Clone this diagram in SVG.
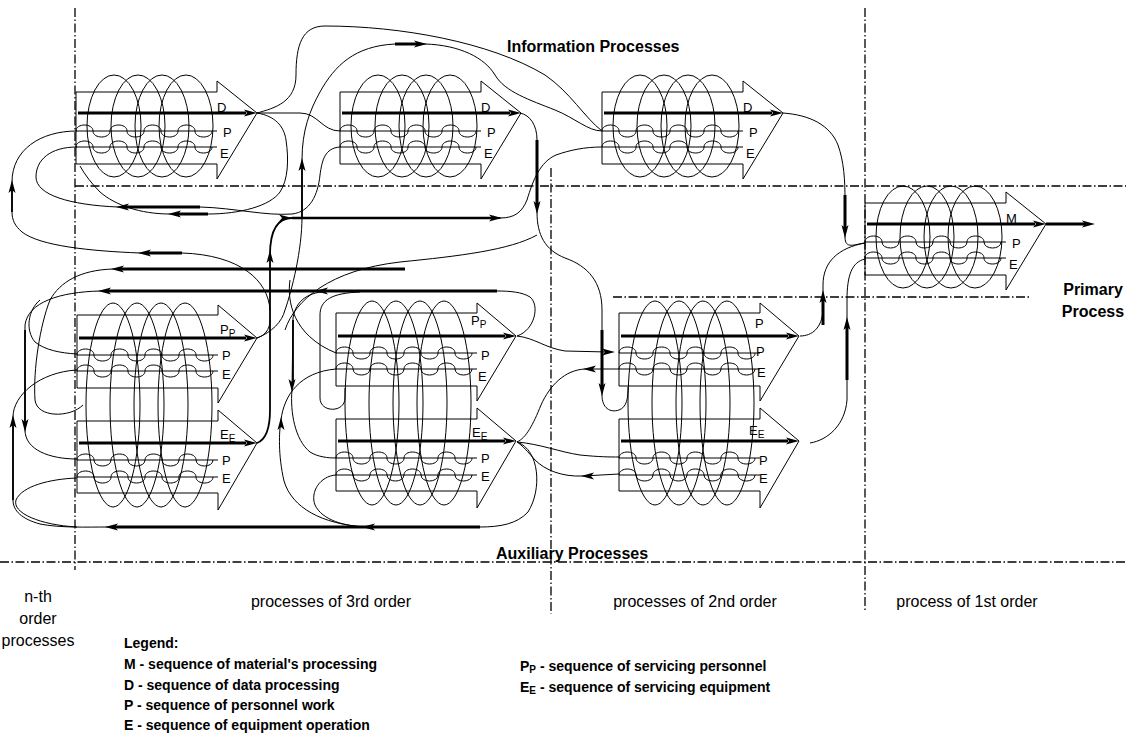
<svg xmlns="http://www.w3.org/2000/svg" xmlns:xlink="http://www.w3.org/1999/xlink" width="1126" height="734" viewBox="0 0 1126 734">
<style>
.t{fill:none;stroke:#000;stroke-width:1}
.c{fill:none;stroke:#000;stroke-width:1}
.m{fill:none;stroke:#000;stroke-width:1.8}
.b{fill:none;stroke:#000;stroke-width:3}
.dd{fill:none;stroke:#000;stroke-width:1.3;stroke-dasharray:9 2.5 1.5 2.5}
.ah{fill:#000;stroke:none}
.lb{font-family:"Liberation Sans",Arial,sans-serif;font-size:13px;fill:#000}
.sub{font-size:10px}
.ti{font-family:"Liberation Sans",Arial,sans-serif;font-size:16px;font-weight:bold;fill:#000}
.tx{font-family:"Liberation Sans",Arial,sans-serif;font-size:16px;fill:#000}
.lg{font-family:"Liberation Sans",Arial,sans-serif;font-size:14px;font-weight:bold;fill:#000}
</style>
<defs>
<path id="ah" class="ah" d="M0,0 L-13,-3.5 L-10,0 L-13,3.5 Z"/>
<path id="wave" class="t" d="M0,0 c0,-8 17,-8 17,0 s17,8 17,0 s17,-8 17,0 s17,8 17,0 s17,-8 17,0 s17,8 17,0 s17,-8 17,0 s17,8 17,0"/>
<g id="coilS" class="t">
<ellipse cx="38" cy="34" rx="27" ry="51"/><ellipse cx="62" cy="34" rx="27" ry="51"/><ellipse cx="86" cy="34" rx="27" ry="51"/><ellipse cx="110" cy="34" rx="27" ry="51"/>
</g>
<g id="coilL" class="t">
<ellipse cx="36" cy="90" rx="27" ry="102"/><ellipse cx="60" cy="90" rx="27" ry="102"/><ellipse cx="84" cy="90" rx="27" ry="102"/><ellipse cx="108" cy="90" rx="27" ry="102"/>
</g>
<g id="infoShape" class="t">
<use href="#coilS"/>
<path d="M0,0 H141 V-11 L181,21 L141,87 V72 H0 Z"/>
<path d="M0,39 H141 M0,55 H141"/>
<use href="#wave" y="39"/><use href="#wave" y="55"/>
<path class="b" d="M2,21 H170"/>
<use href="#ah" x="181" y="21"/>
</g>
<g id="auxShape" class="t">
<use href="#coilL"/>
<path d="M0,0 H141 V-10 L180,23 L141,88 V73 H0 Z"/>
<path d="M0,106 H141 V95 L180,128 L141,195 V178 H0 Z"/>
<path d="M0,40 H141 M0,56 H141 M0,145 H141 M0,162 H141"/>
<use href="#wave" y="40"/><use href="#wave" y="56"/><use href="#wave" y="145"/><use href="#wave" y="162"/>
<path class="b" d="M2,23 H169 M2,128 H169"/>
<use href="#ah" x="180" y="23"/><use href="#ah" x="180" y="128"/>
</g>
</defs>
<rect width="1126" height="734" fill="#fff"/>

<g id="grid">
<path class="dd" d="M75,8 V570"/>
<path class="dd" d="M551,168 V614"/>
<path class="dd" d="M865,8 V610"/>
<path class="dd" d="M75,186 H1126"/>
<path class="dd" d="M613,297 H1030"/>
<path class="dd" d="M0,562 H1126"/>
</g>

<g id="info-3a" transform="translate(76,92)">
<use href="#infoShape"/>
<text class="lb" x="141" y="20">D</text><text class="lb" x="147" y="45">P</text><text class="lb" x="144" y="66">E</text>
</g>
<g id="info-3b" transform="translate(340,92)">
<use href="#infoShape"/>
<text class="lb" x="141" y="20">D</text><text class="lb" x="147" y="45">P</text><text class="lb" x="144" y="66">E</text>
</g>
<g id="info-2" transform="translate(602,92)">
<use href="#infoShape"/>
<text class="lb" x="141" y="20">D</text><text class="lb" x="147" y="45">P</text><text class="lb" x="144" y="66">E</text>
</g>
<g id="primary" transform="translate(865,203)">
<use href="#infoShape"/>
<text class="lb" x="141" y="20">M</text><text class="lb" x="147" y="45">P</text><text class="lb" x="144" y="66">E</text>
</g>
<g id="aux-3a" transform="translate(77,315)">
<use href="#auxShape"/>
<text class="lb" x="143" y="19">P<tspan class="sub" dy="3">P</tspan></text>
<text class="lb" x="145" y="45">P</text><text class="lb" x="145" y="64">E</text>
<text class="lb" x="143" y="124">E<tspan class="sub" dy="3">E</tspan></text>
<text class="lb" x="145" y="150">P</text><text class="lb" x="145" y="168">E</text>
</g>
<g id="aux-3b" transform="translate(336,313)">
<use href="#auxShape"/>
<text class="lb" x="135" y="12">P<tspan class="sub" dy="3">P</tspan></text>
<text class="lb" x="145" y="47">P</text><text class="lb" x="142" y="68">E</text>
<text class="lb" x="136" y="124">E<tspan class="sub" dy="3">E</tspan></text>
<text class="lb" x="145" y="150">P</text><text class="lb" x="145" y="168">E</text>
</g>
<g id="aux-2" transform="translate(619,313)">
<use href="#auxShape"/>
<text class="lb" x="136" y="15">P</text>
<text class="lb" x="137" y="43">P</text><text class="lb" x="138" y="64">E</text>
<text class="lb" x="130" y="122">E<tspan class="sub" dy="3">E</tspan></text>
<text class="lb" x="140" y="152">P</text><text class="lb" x="140" y="170">E</text>
</g>

<g id="connectors">
<path class="c" d="M257,113 C275,108 296,102 296,75 C296,45 302,26 325,26 C400,26 490,42 545,75 C570,92 585,118 602,131"/>
<path class="c" d="M257,338 C272,332 282,322 285,310 C292,290 302,250 302,217 L302,160 C302,130 310,110 320,92 C335,65 355,46 395,44 L425,44 C460,45 485,58 495,75 C505,92 530,100 555,110 C575,118 588,131 602,131"/>
<path class="m" d="M302,217 V165"/><use href="#ah" transform="translate(302,158) rotate(-90)"/>
<path class="b" d="M395,44 H420"/><use href="#ah" transform="translate(427,44)"/>
<path class="c" d="M257,113 L300,113 C318,113 322,131 340,131"/>
<path class="c" d="M257,113 C275,116 284,126 286,140 C289,160 288,180 280,192 C270,206 240,214 208,214 L170,214 C140,214 115,205 100,192 C92,184 85,175 80,166"/>
<path class="b" d="M208,214 H175"/><use href="#ah" transform="translate(168,214) rotate(180)"/>
<path class="c" d="M340,147 C325,148 322,160 320,175 C318,195 310,212 292,214 C265,216 235,208 200,207 L118,207 C70,205 36,195 36,177 C36,160 50,147 77,147"/>
<path class="b" d="M200,207 H123"/><use href="#ah" transform="translate(116,207) rotate(180)"/>
<path class="c" d="M270,310 C268,280 240,255 182,253 L140,253 C90,251 40,246 22,232 C15,226 12,220 12,212 L12,182 C12,150 40,131 77,131"/>
<path class="b" d="M182,253 H145"/><use href="#ah" transform="translate(138,253) rotate(180)"/>
<path class="m" d="M12,212 V187"/><use href="#ah" transform="translate(12,180) rotate(-90)"/>
<path class="m" d="M257,443 C265,440 270,430 270,410 L270,255 C270,232 276,218 292,218 L500,218"/>
<use href="#ah" transform="translate(270,250) rotate(-90)"/>
<path class="m" d="M292,218 H495" style="stroke-width:2.4"/><use href="#ah" transform="translate(292,218)"/><use href="#ah" transform="translate(502,218)"/>
<path class="c" d="M257,338 C264,336 270,330 270,320"/>
<path class="c" d="M500,218 C515,218 522,212 527,200 C533,180 540,162 556,155 C570,150 585,147 602,147"/>
<path class="c" d="M520,113 C530,115 537,125 537,140 L537,212 C537,235 545,250 565,258 C588,266 602,282 602,310 L602,395 C602,408 610,413 619,410 C627,407 628,398 628,387"/>
<path class="b" d="M537,140 V207"/><use href="#ah" transform="translate(537,214) rotate(90)"/>
<path class="b" d="M602,330 V388"/><use href="#ah" transform="translate(602,396) rotate(90)"/>
<path class="c" d="M783,113 C810,115 830,125 838,145 C844,162 845,180 845,200 L845,237 C845,250 855,244 865,243"/>
<path class="b" d="M845,195 V230"/><use href="#ah" transform="translate(845,238) rotate(90)"/>
<path class="c" d="M800,336 C812,336 822,328 823,310 L823,285 C823,262 838,248 865,243"/>
<path class="b" d="M823,325 V297"/><use href="#ah" transform="translate(823,290) rotate(-90)"/>
<path class="c" d="M810,443 C828,440 845,425 847,400 L847,300 C847,275 852,262 865,259"/>
<path class="b" d="M847,380 V324"/><use href="#ah" transform="translate(847,317) rotate(-90)"/>
<path class="b" d="M1046,224 H1088"/><use href="#ah" transform="translate(1095,224)"/>
<path class="c" d="M405,269 L113,269 C80,270 60,282 50,300 C40,325 33,370 35,400 C37,418 70,418 83,405"/>
<path class="b" d="M405,269 H118"/><use href="#ah" transform="translate(111,269) rotate(180)"/>
<path class="c" d="M517,336 C535,330 540,305 530,297 C522,292 510,291 497,291 L100,291 C60,292 28,302 25,325 L25,430 C25,450 50,459 77,459"/>
<path class="b" d="M497,291 H105"/><use href="#ah" transform="translate(98,291) rotate(180)"/><use href="#ah" transform="translate(315,291) rotate(180)"/>
<path class="m" d="M25,330 V425"/><use href="#ah" transform="translate(25,432) rotate(90)"/>
<path class="c" d="M40,300 C28,310 25,330 35,342 C45,350 60,353 77,354"/>
<path class="c" d="M330,291 C308,292 296,300 293,318 L292,390 C290,412 295,440 310,452 C318,457 328,458 336,458"/>
<path class="m" d="M293,320 V385"/><use href="#ah" transform="translate(292,392) rotate(90)"/>
<path class="c" d="M360,292 C332,293 320,300 320,315 L320,398 C320,413 345,413 345,398 L345,388"/>
<path class="c" d="M290,280 C287,300 292,335 336,353"/>
<path class="c" d="M365,527 C322,524 292,508 284,481 C278,455 279,432 281,420 C284,395 300,372 336,369"/>
<use href="#ah" transform="translate(281,417) rotate(-90)"/>
<path class="c" d="M336,475 C320,476 310,492 315,505 C322,520 345,527 370,527"/>
<path class="c" d="M517,442 C540,450 542,490 528,512 C517,524 500,527 480,527 L107,527 C88,527 60,528 40,524 C22,519 13,511 13,500 L13,417 C13,395 40,372 77,370"/>
<path class="b" d="M480,527 H112"/><use href="#ah" transform="translate(105,527) rotate(180)"/><use href="#ah" transform="translate(362,527) rotate(180)"/>
<path class="m" d="M13,500 V422"/><use href="#ah" transform="translate(13,415) rotate(-90)"/>
<path class="c" d="M77,478 C50,479 22,486 16,500 C12,513 40,525 77,527"/>
<path class="c" d="M517,336 C535,338 545,348 565,351 L608,352"/><use href="#ah" transform="translate(615,352)"/>
<path class="c" d="M619,369 L585,369 C565,370 550,385 541,405 C533,425 526,438 517,442"/><use href="#ah" transform="translate(583,369) rotate(180)"/>
<path class="c" d="M517,442 C540,444 560,452 580,455 C600,457 610,457 619,457"/>
<path class="c" d="M619,474 L583,476 C562,477 545,470 535,460 C528,452 522,445 517,442"/><use href="#ah" transform="translate(581,476) rotate(180)"/>
<path class="c" d="M285,330 C295,300 330,270 400,262 C460,256 510,250 537,235"/>
</g>

<g id="labels">
<text class="ti" x="507" y="52">Information Processes</text>
<text class="ti" x="1093" y="295" text-anchor="middle">Primary</text>
<text class="ti" x="1093" y="317" text-anchor="middle">Process</text>
<text class="ti" x="496" y="559">Auxiliary Processes</text>
<text class="tx" x="38" y="602" text-anchor="middle">n-th</text>
<text class="tx" x="38" y="624" text-anchor="middle">order</text>
<text class="tx" x="38" y="646" text-anchor="middle">processes</text>
<text class="tx" x="331" y="607" text-anchor="middle">processes of 3rd order</text>
<text class="tx" x="695" y="607" text-anchor="middle">processes of 2nd order</text>
<text class="tx" x="967" y="607" text-anchor="middle">process of 1st order</text>
</g>
<g id="legend">
<text class="lg" x="124" y="648">Legend:</text>
<text class="lg" x="124" y="669">M - sequence of material's processing</text>
<text class="lg" x="124" y="690">D - sequence of data processing</text>
<text class="lg" x="124" y="710">P - sequence of personnel work</text>
<text class="lg" x="124" y="730">E - sequence of equipment operation</text>
<text class="lg" x="520" y="671">P<tspan font-size="10" dy="2">P</tspan><tspan dy="-2"> - sequence of servicing personnel</tspan></text>
<text class="lg" x="520" y="692">E<tspan font-size="10" dy="2">E</tspan><tspan dy="-2"> - sequence of servicing equipment</tspan></text>
</g>
</svg>
